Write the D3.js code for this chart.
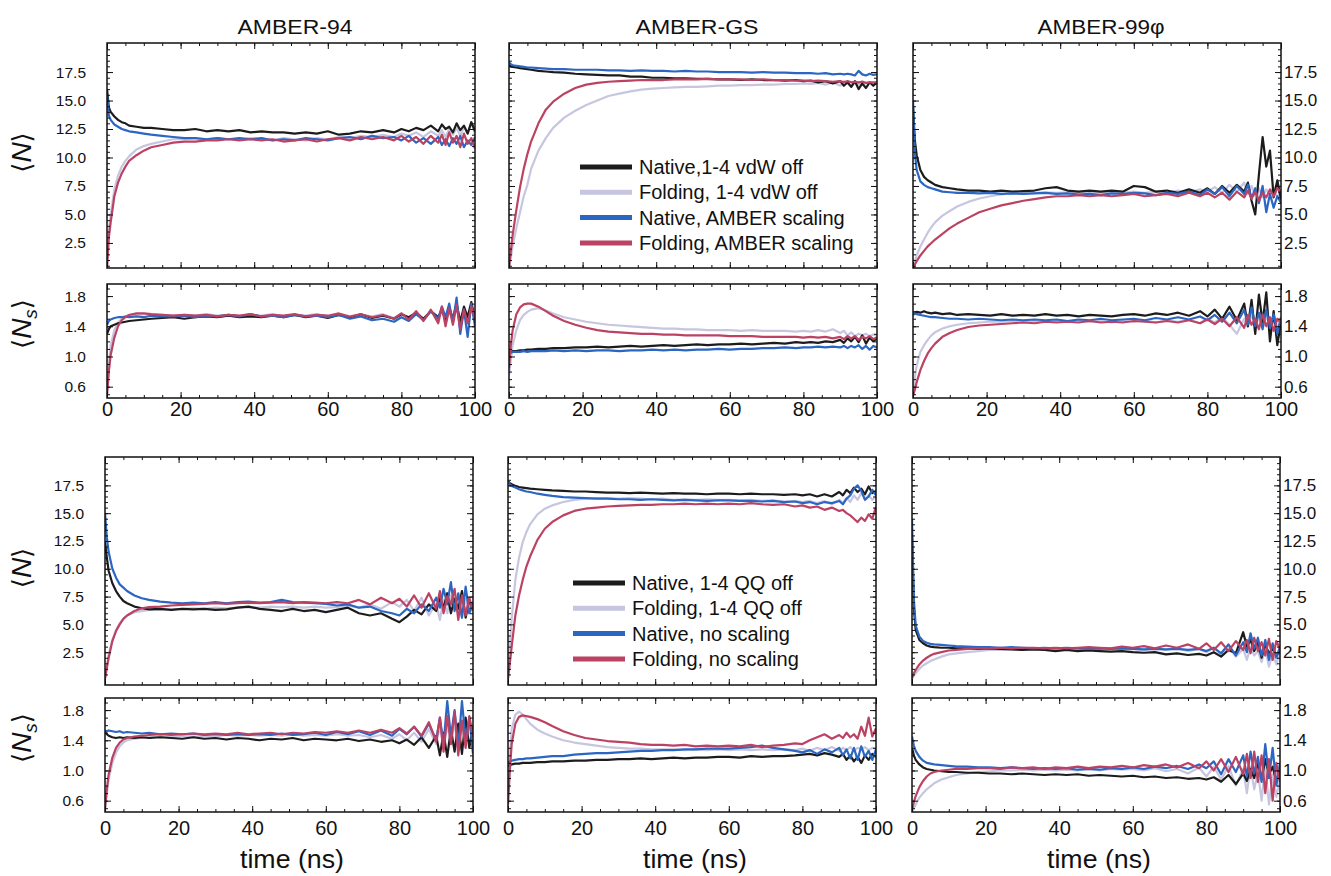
<!DOCTYPE html>
<meta charset="utf-8">
<style>
body { margin: 0; background: #fff; }
svg { font-family: "Liberation Sans", Arial, sans-serif; }
.frame { fill: none; stroke: #111; stroke-width: 1.5px; }
.edge .tick line { stroke: #111; stroke-width: 1px; }
.edge .domain { display: none; }
.edge text { fill: #111; }
.trace { fill: none; stroke-width: 2.2px; stroke-linejoin: round; }
</style>
<svg width="1331" height="876"></svg>
<script src="https://cdnjs.cloudflare.com/ajax/libs/d3/7.8.5/d3.min.js"></script>
<script>
// time axis (ns), denser at the start where the curves move fast
var time = [0,0.5,1,2,3,4,5,6,8,10, 12,15,18,21,24,27,30,33,36,39, 42,45,48,51,54,57,60,63,66,69, 72,75,78,80,82,84,86,88,90,91, 92,93,94,95,96,97,98,99,100];

var colTitles = ["AMBER-94", "AMBER-GS", "AMBER-99\u03c6"];
var vdwLegend = ["Native,1-4 vdW off", "Folding, 1-4 vdW off", "Native, AMBER scaling", "Folding, AMBER scaling"];
var qqLegend = ["Native, 1-4 QQ off", "Folding, 1-4 QQ off", "Native, no scaling", "Folding, no scaling"];
var nTicks = [2.5, 5, 7.5, 10, 12.5, 15, 17.5];
var nsTicks = [0.6, 1.0, 1.4, 1.8];
var timeTicks = [0, 20, 40, 60, 80, 100];

// ---- 1-4 vdW off vs AMBER scaling (top half) ----
var vdw94_N_natOff  = [16.0,14.4,14.0,13.6,13.3,13.1,13.0,12.8,12.7,12.6, 12.6,12.5,12.4,12.4,12.5,12.3,12.4,12.3,12.4,12.2, 12.3,12.2,12.2,12.1,12.2,12.1,12.3,12.0,12.1,12.3, 12.2,12.4,12.2,12.5,12.3,12.6,12.4,12.8,12.3,12.9, 12.5,12.7,12.2,13.0,12.4,12.8,12.1,13.1,12.3];
var vdw94_N_foldOff = [0.4,3.6,5.0,7.2,8.4,9.2,9.7,10.1,10.7,11.0, 11.2,11.4,11.6,11.6,11.7,11.6,11.7,11.6,11.6,11.7, 11.6,11.5,11.7,11.6,11.5,11.7,11.6,11.8,11.7,11.9, 11.8,12.0,11.8,12.1,11.9,12.2,11.8,12.3,11.9,12.4, 11.8,12.5,12.0,12.6,11.9,12.7,12.1,13.1,12.0];
var vdw94_N_natScl  = [15.5,13.7,13.3,12.9,12.7,12.5,12.4,12.3,12.2,12.1, 12.0,11.9,11.8,11.7,11.7,11.6,11.7,11.6,11.7,11.6, 11.7,11.5,11.6,11.5,11.7,11.6,11.5,11.7,11.8,11.6, 11.9,11.7,11.8,11.5,11.9,11.3,11.7,11.2,11.8,11.1, 11.6,11.0,11.7,11.2,11.9,10.9,11.5,11.1,11.8];
var vdw94_N_foldScl = [0.3,3.0,4.3,6.6,7.8,8.6,9.2,9.7,10.2,10.6, 10.9,11.1,11.3,11.4,11.4,11.5,11.5,11.6,11.5,11.6, 11.5,11.6,11.4,11.5,11.6,11.4,11.6,11.7,11.5,11.8, 11.6,11.8,11.5,11.9,11.4,11.8,11.2,11.9,11.3,12.0, 11.1,12.2,11.3,11.9,10.9,12.1,11.2,11.7,10.8];

var vdw94_Ns_natOff  = [1.30,1.36,1.40,1.42,1.44,1.45,1.46,1.47,1.48,1.49, 1.50,1.51,1.52,1.50,1.52,1.53,1.52,1.54,1.52,1.53, 1.52,1.54,1.52,1.55,1.52,1.54,1.51,1.55,1.52,1.56, 1.51,1.54,1.50,1.56,1.52,1.58,1.50,1.60,1.52,1.62, 1.48,1.64,1.50,1.70,1.46,1.66,1.52,1.72,1.50];
var vdw94_Ns_foldOff = [0.55,0.90,1.15,1.35,1.45,1.50,1.53,1.55,1.56,1.56, 1.55,1.55,1.54,1.55,1.54,1.56,1.54,1.55,1.53,1.55, 1.54,1.56,1.53,1.55,1.54,1.56,1.53,1.55,1.52,1.55, 1.53,1.56,1.51,1.57,1.50,1.58,1.49,1.60,1.47,1.63, 1.45,1.60,1.48,1.65,1.42,1.62,1.50,1.66,1.48];
var vdw94_Ns_natScl  = [1.42,1.47,1.49,1.51,1.52,1.52,1.53,1.52,1.53,1.52, 1.54,1.53,1.53,1.54,1.52,1.54,1.53,1.55,1.53,1.56, 1.53,1.54,1.52,1.55,1.53,1.54,1.52,1.55,1.50,1.53, 1.48,1.50,1.46,1.52,1.47,1.56,1.48,1.60,1.50,1.66, 1.52,1.70,1.45,1.78,1.30,1.62,1.26,1.70,1.40];
var vdw94_Ns_foldScl = [0.48,0.80,1.02,1.25,1.40,1.48,1.52,1.55,1.57,1.57, 1.56,1.55,1.54,1.55,1.54,1.55,1.53,1.55,1.54,1.56, 1.53,1.55,1.54,1.56,1.53,1.55,1.54,1.57,1.53,1.56, 1.52,1.55,1.50,1.57,1.49,1.60,1.47,1.62,1.44,1.66, 1.40,1.64,1.42,1.68,1.36,1.62,1.44,1.66,1.50];

var vdwGS_N_natOff  = [18.1,18.0,17.95,17.9,17.85,17.8,17.75,17.7,17.6,17.55, 17.5,17.45,17.35,17.3,17.25,17.2,17.2,17.1,17.1,17.0, 17.0,16.95,16.95,16.9,16.9,16.85,16.85,16.8,16.85,16.8, 16.8,16.75,16.8,16.7,16.75,16.6,16.7,16.5,16.7,16.3, 16.6,16.2,16.7,16.0,16.5,16.1,16.6,16.3,16.6];
var vdwGS_N_foldOff = [0.3,1.2,2.2,3.8,5.2,6.6,7.6,9.0,10.6,11.7, 12.6,13.5,14.1,14.6,15.0,15.4,15.6,15.8,15.95,16.05, 16.1,16.15,16.2,16.2,16.25,16.3,16.3,16.35,16.35,16.4, 16.4,16.45,16.45,16.5,16.45,16.55,16.4,16.6,16.3,16.7, 16.5,16.2,16.6,16.4,16.7,16.5,16.6,16.5,16.6];
var vdwGS_N_natScl  = [18.35,18.2,18.1,18.05,18.0,17.95,17.9,17.9,17.85,17.8, 17.75,17.75,17.7,17.7,17.7,17.65,17.65,17.6,17.65,17.6, 17.6,17.55,17.6,17.55,17.55,17.5,17.5,17.5,17.45,17.5, 17.45,17.45,17.4,17.4,17.4,17.35,17.4,17.3,17.35,17.3, 17.35,17.3,17.2,17.6,17.3,17.2,17.35,17.25,17.3];
var vdwGS_N_foldScl = [0.3,1.8,3.2,5.4,7.4,9.0,10.3,11.4,13.0,14.2, 14.9,15.6,16.1,16.4,16.55,16.65,16.7,16.75,16.8,16.8, 16.8,16.85,16.85,16.85,16.9,16.85,16.85,16.85,16.8,16.85, 16.8,16.8,16.75,16.75,16.7,16.75,16.7,16.65,16.7,16.6, 16.7,16.6,16.65,16.6,16.65,16.55,16.6,16.6,16.6];

var vdwGS_Ns_natOff  = [1.05,1.06,1.07,1.07,1.08,1.08,1.09,1.09,1.10,1.10, 1.11,1.11,1.12,1.12,1.13,1.12,1.13,1.14,1.13,1.14, 1.15,1.14,1.15,1.16,1.15,1.16,1.16,1.17,1.16,1.17, 1.18,1.17,1.19,1.18,1.19,1.18,1.20,1.19,1.22,1.18, 1.24,1.20,1.26,1.19,1.28,1.17,1.25,1.20,1.24];
var vdwGS_Ns_foldOff = [0.75,0.95,1.15,1.35,1.48,1.55,1.59,1.62,1.64,1.61, 1.57,1.52,1.49,1.46,1.44,1.42,1.41,1.40,1.39,1.38, 1.37,1.37,1.36,1.36,1.35,1.35,1.35,1.34,1.35,1.34, 1.34,1.34,1.33,1.34,1.33,1.35,1.33,1.36,1.31,1.34, 1.28,1.32,1.27,1.30,1.28,1.30,1.27,1.29,1.27];
var vdwGS_Ns_natScl  = [1.04,1.05,1.06,1.06,1.06,1.07,1.06,1.07,1.07,1.07, 1.08,1.07,1.08,1.07,1.08,1.08,1.07,1.08,1.08,1.09, 1.08,1.09,1.08,1.09,1.09,1.10,1.09,1.10,1.10,1.11, 1.11,1.12,1.11,1.12,1.12,1.13,1.12,1.13,1.12,1.14, 1.11,1.14,1.12,1.15,1.10,1.14,1.09,1.14,1.12];
var vdwGS_Ns_foldScl = [0.85,1.15,1.35,1.56,1.65,1.69,1.70,1.70,1.66,1.60, 1.54,1.47,1.42,1.38,1.35,1.33,1.32,1.31,1.30,1.30, 1.29,1.29,1.28,1.28,1.28,1.28,1.27,1.27,1.27,1.26, 1.26,1.26,1.26,1.25,1.26,1.25,1.26,1.24,1.26,1.23, 1.27,1.24,1.27,1.22,1.26,1.24,1.27,1.23,1.25];

var vdw99_N_natOff  = [14.5,11.5,10.2,8.9,8.3,8.0,7.8,7.6,7.4,7.3, 7.2,7.1,7.1,7.0,7.1,7.0,7.05,7.1,7.3,7.4, 7.1,7.0,7.1,7.0,7.1,7.0,7.5,7.4,7.0,7.1, 6.9,7.2,6.9,7.3,6.8,7.5,6.9,7.6,7.0,7.8, 6.2,5.0,8.5,11.8,9.2,10.6,6.5,8.0,6.3];
var vdw99_N_foldOff = [0.3,0.9,1.4,2.2,2.8,3.4,3.9,4.3,4.9,5.3, 5.7,6.1,6.4,6.6,6.75,6.85,6.9,6.9,6.95,6.9, 6.95,6.9,6.95,6.9,6.95,6.9,7.0,6.9,7.0,6.9, 7.1,6.9,7.2,7.0,7.4,6.9,7.6,7.0,7.8,6.8, 7.5,6.6,7.3,6.5,7.2,6.8,7.4,6.5,7.0];
var vdw99_N_natScl  = [15.0,10.5,8.9,7.9,7.6,7.4,7.3,7.2,7.0,6.95, 6.9,6.9,6.85,6.9,6.8,6.85,6.8,6.85,6.9,6.8, 6.85,6.75,6.8,6.7,6.85,6.8,6.9,6.85,6.7,6.9, 6.8,7.0,6.7,7.2,6.8,7.4,6.6,7.5,6.8,7.6, 6.4,7.3,6.0,7.5,5.2,6.8,5.6,6.6,6.0];
var vdw99_N_foldScl = [0.2,0.6,0.9,1.4,1.8,2.2,2.5,2.8,3.3,3.8, 4.2,4.7,5.2,5.5,5.8,6.0,6.2,6.35,6.5,6.6, 6.6,6.7,6.6,6.7,6.6,6.7,6.8,6.6,6.7,6.8, 6.6,6.9,6.6,6.9,6.5,6.9,6.3,7.0,6.5,7.1, 6.4,7.0,6.2,6.9,6.5,7.2,6.6,7.3,7.0];

var vdw99_Ns_natOff  = [1.55,1.58,1.59,1.58,1.60,1.58,1.57,1.58,1.56,1.57, 1.55,1.56,1.55,1.54,1.56,1.54,1.55,1.54,1.56,1.54, 1.55,1.53,1.55,1.54,1.53,1.55,1.56,1.54,1.57,1.55, 1.58,1.54,1.60,1.53,1.62,1.50,1.66,1.48,1.70,1.40, 1.75,1.30,1.82,1.45,1.85,1.20,1.60,1.15,1.45];
var vdw99_Ns_foldOff = [0.50,0.72,0.88,1.06,1.15,1.22,1.28,1.32,1.37,1.40, 1.42,1.44,1.45,1.46,1.46,1.47,1.46,1.47,1.46,1.47, 1.46,1.48,1.46,1.47,1.45,1.47,1.46,1.48,1.45,1.48, 1.46,1.49,1.44,1.50,1.45,1.52,1.42,1.30,1.50,1.40, 1.55,1.42,1.50,1.38,1.52,1.44,1.48,1.40,1.46];
var vdw99_Ns_natScl  = [1.58,1.57,1.56,1.55,1.54,1.53,1.52,1.52,1.51,1.50, 1.50,1.49,1.50,1.49,1.48,1.49,1.48,1.49,1.48,1.49, 1.47,1.49,1.48,1.50,1.48,1.49,1.50,1.48,1.51,1.49, 1.52,1.49,1.53,1.48,1.55,1.46,1.58,1.44,1.62,1.42, 1.65,1.40,1.58,1.36,1.62,1.38,1.56,1.30,1.52];
var vdw99_Ns_foldScl = [0.48,0.56,0.66,0.82,0.94,1.04,1.11,1.17,1.26,1.31, 1.35,1.39,1.41,1.42,1.43,1.44,1.45,1.44,1.46,1.45, 1.46,1.45,1.47,1.45,1.46,1.45,1.47,1.46,1.45,1.47, 1.45,1.48,1.44,1.49,1.43,1.50,1.40,1.52,1.38,1.55, 1.42,1.50,1.36,1.56,1.40,1.52,1.34,1.50,1.44];

// ---- 1-4 QQ off vs no scaling (bottom half) ----
var qq94_N_natOff  = [12.5,11.0,9.8,8.7,8.0,7.5,7.1,6.9,6.6,6.45, 6.35,6.4,6.3,6.4,6.35,6.4,6.3,6.35,6.5,6.6, 6.4,6.3,6.2,6.4,6.2,6.3,6.1,6.3,6.5,6.0, 5.8,6.0,5.5,5.2,5.7,6.3,5.9,6.8,6.2,7.4, 6.5,7.8,6.0,7.3,6.4,8.0,5.6,7.2,6.3];
var qq94_N_foldOff = [0.2,1.2,2.3,3.6,4.5,5.1,5.5,5.8,6.1,6.2, 6.3,6.3,6.35,6.4,6.45,6.4,6.5,6.45,6.5,6.55, 6.5,6.6,6.55,6.6,6.5,6.6,6.5,6.55,6.7,6.5, 6.8,6.4,7.0,6.6,7.2,6.2,7.4,5.8,6.9,5.4, 7.2,6.0,7.6,6.4,6.8,5.7,7.3,6.0,6.5];
var qq94_N_natScl  = [15.0,12.8,11.5,10.0,9.2,8.6,8.3,8.0,7.6,7.35, 7.2,7.05,6.95,6.9,6.95,6.9,7.0,6.9,7.0,7.05, 6.95,7.0,7.2,7.0,6.95,6.9,6.85,6.7,6.8,6.5, 6.6,6.2,6.0,5.8,6.4,6.0,6.8,6.2,7.4,6.5, 8.2,6.8,8.8,6.2,7.8,5.6,8.4,6.0,7.0];
var qq94_N_foldScl = [0.1,1.1,2.0,3.5,4.4,5.0,5.5,5.8,6.2,6.45, 6.55,6.6,6.7,6.75,6.8,6.85,6.9,6.85,6.9,6.95, 6.9,6.95,7.0,6.9,7.0,6.95,6.9,7.0,6.9,7.2, 6.8,7.4,6.9,7.3,6.6,7.6,6.5,7.8,6.4,8.0, 6.0,7.5,6.8,8.2,5.4,7.6,5.8,7.4,6.2];

var qq94_Ns_natOff  = [1.52,1.48,1.46,1.44,1.43,1.44,1.43,1.44,1.43,1.44, 1.43,1.44,1.43,1.42,1.44,1.42,1.43,1.41,1.43,1.42, 1.40,1.42,1.41,1.43,1.40,1.42,1.41,1.40,1.42,1.39, 1.41,1.38,1.40,1.36,1.41,1.34,1.44,1.30,1.46,1.20, 1.50,1.18,1.55,1.25,1.62,1.22,1.70,1.30,1.58];
var qq94_Ns_foldOff = [0.48,0.70,0.88,1.10,1.24,1.32,1.37,1.40,1.42,1.43, 1.44,1.45,1.44,1.46,1.45,1.46,1.45,1.47,1.46,1.47, 1.46,1.47,1.46,1.48,1.46,1.47,1.46,1.48,1.46,1.47, 1.44,1.47,1.42,1.48,1.40,1.50,1.38,1.55,1.35,1.58, 1.30,1.60,1.36,1.62,1.32,1.55,1.40,1.60,1.45];
var qq94_Ns_natScl  = [1.53,1.52,1.53,1.52,1.51,1.52,1.50,1.51,1.50,1.49, 1.50,1.48,1.49,1.48,1.49,1.47,1.48,1.47,1.48,1.47, 1.48,1.47,1.49,1.47,1.48,1.50,1.47,1.51,1.48,1.52, 1.47,1.53,1.46,1.55,1.48,1.58,1.45,1.62,1.40,1.70, 1.35,1.92,1.45,1.80,1.30,1.92,1.40,1.70,1.22];
var qq94_Ns_foldScl = [0.50,0.75,0.95,1.17,1.30,1.37,1.41,1.43,1.45,1.46, 1.47,1.48,1.47,1.48,1.49,1.48,1.49,1.48,1.50,1.48, 1.49,1.50,1.48,1.50,1.49,1.51,1.50,1.52,1.50,1.53, 1.50,1.54,1.50,1.56,1.49,1.58,1.46,1.64,1.38,1.70, 1.25,1.72,1.35,1.78,1.20,1.66,1.30,1.72,1.45];

var qqGS_N_natOff  = [17.9,17.7,17.6,17.45,17.35,17.3,17.25,17.2,17.15,17.1, 17.05,17.0,16.95,16.95,16.9,16.85,16.85,16.8,16.85,16.8, 16.75,16.8,16.75,16.75,16.7,16.75,16.75,16.7,16.75,16.7, 16.7,16.65,16.7,16.6,16.7,16.5,16.7,16.5,16.9,16.6, 17.1,16.8,17.3,16.9,17.2,16.7,17.4,16.8,17.0];
var qqGS_N_foldOff = [0.2,3.0,5.5,9.0,11.0,12.4,13.3,14.0,14.9,15.4, 15.7,16.0,16.2,16.3,16.35,16.35,16.3,16.35,16.3,16.25, 16.3,16.2,16.25,16.2,16.25,16.2,16.2,16.15,16.2,16.1, 16.15,16.05,16.1,16.0,16.1,15.9,16.1,15.8,16.2,15.9, 16.4,16.0,16.6,16.2,16.8,16.3,16.6,16.2,16.5];
var qqGS_N_natScl  = [17.9,17.6,17.45,17.3,17.15,17.05,16.95,16.9,16.75,16.65, 16.55,16.45,16.4,16.35,16.3,16.3,16.25,16.25,16.2,16.25, 16.2,16.15,16.2,16.15,16.1,16.15,16.15,16.1,16.1,16.05, 16.1,16.0,16.05,15.9,16.0,15.8,16.0,15.9,16.1,15.8, 16.3,16.6,17.2,17.5,17.0,16.2,16.5,17.1,16.6];
var qqGS_N_foldScl = [0.1,1.5,3.0,5.8,7.6,9.0,10.2,11.1,12.6,13.6, 14.2,14.8,15.2,15.4,15.5,15.6,15.65,15.7,15.75,15.75, 15.8,15.8,15.85,15.8,15.85,15.8,15.85,15.8,15.9,15.8, 15.75,15.8,15.6,15.7,15.5,15.6,15.3,15.5,15.2,15.3, 15.0,14.8,14.5,14.2,14.6,14.3,14.9,14.5,15.6];

var qqGS_Ns_natOff  = [1.06,1.07,1.08,1.09,1.09,1.10,1.10,1.10,1.11,1.11, 1.12,1.12,1.13,1.13,1.14,1.14,1.15,1.15,1.16,1.15, 1.16,1.17,1.16,1.17,1.17,1.18,1.18,1.17,1.19,1.18, 1.19,1.19,1.20,1.21,1.22,1.20,1.23,1.21,1.18,1.22, 1.14,1.20,1.12,1.18,1.10,1.20,1.14,1.22,1.18];
var qqGS_Ns_foldOff = [0.60,1.20,1.55,1.74,1.78,1.74,1.68,1.62,1.54,1.49, 1.45,1.40,1.37,1.35,1.33,1.31,1.30,1.29,1.29,1.28, 1.28,1.28,1.27,1.28,1.27,1.28,1.27,1.28,1.27,1.28, 1.27,1.28,1.27,1.29,1.26,1.30,1.27,1.31,1.26,1.30, 1.27,1.31,1.26,1.30,1.28,1.31,1.27,1.30,1.29];
var qqGS_Ns_natScl  = [1.10,1.12,1.13,1.14,1.15,1.15,1.16,1.16,1.17,1.18, 1.19,1.19,1.21,1.22,1.23,1.23,1.24,1.25,1.26,1.26, 1.27,1.27,1.28,1.28,1.29,1.29,1.29,1.30,1.31,1.33, 1.30,1.28,1.26,1.24,1.27,1.22,1.28,1.24,1.30,1.20, 1.28,1.16,1.30,1.14,1.32,1.18,1.26,1.14,1.28];
var qqGS_Ns_foldScl = [0.55,1.00,1.35,1.62,1.71,1.73,1.72,1.71,1.68,1.64, 1.59,1.52,1.47,1.43,1.41,1.39,1.38,1.37,1.35,1.34, 1.34,1.33,1.34,1.32,1.33,1.32,1.33,1.32,1.34,1.31, 1.33,1.34,1.36,1.35,1.40,1.44,1.48,1.42,1.47,1.43, 1.50,1.44,1.48,1.42,1.58,1.46,1.70,1.45,1.56];

var qq99_N_natOff  = [13.0,6.5,4.5,3.6,3.3,3.1,3.0,2.95,2.9,2.9, 2.85,2.85,2.8,2.85,2.8,2.75,2.7,2.75,2.7,2.6, 2.7,2.6,2.65,2.6,2.55,2.6,2.5,2.45,2.5,2.3, 2.4,2.25,2.35,2.2,2.5,2.1,2.7,2.4,4.3,3.0, 3.6,2.6,3.4,2.0,3.2,2.4,2.8,2.2,2.6];
var qq99_N_foldOff = [0.1,0.4,0.6,1.0,1.3,1.5,1.7,1.85,2.1,2.3, 2.4,2.5,2.6,2.7,2.7,2.75,2.75,2.8,2.75,2.8, 2.8,2.75,2.8,2.75,2.8,2.75,2.8,2.7,2.85,2.7, 2.9,2.6,2.8,2.5,2.9,2.3,3.0,2.1,2.8,1.8, 3.0,2.2,2.6,1.6,2.8,1.2,2.4,1.4,2.6];
var qq99_N_natScl  = [14.5,7.3,4.9,3.9,3.5,3.35,3.25,3.2,3.15,3.1, 3.05,3.0,2.95,2.95,2.9,2.95,2.9,2.85,2.9,2.85, 2.9,2.85,2.8,2.85,2.8,2.85,2.8,2.75,2.8,2.75, 2.8,2.7,2.8,2.6,2.9,2.4,3.2,2.2,3.4,2.5, 4.2,2.8,3.8,2.2,3.6,1.8,3.3,2.0,3.0];
var qq99_N_foldScl = [0.2,0.6,0.9,1.4,1.75,2.0,2.2,2.35,2.5,2.65, 2.7,2.8,2.85,2.85,2.9,2.85,2.9,2.9,2.85,2.9, 2.85,2.9,2.95,2.9,2.85,3.0,2.9,3.05,2.85,3.1, 2.9,3.2,2.8,3.3,2.7,3.4,2.6,3.5,2.7,3.6, 2.4,3.8,2.6,3.4,2.2,3.7,1.8,3.5,2.8];

var qq99_Ns_natOff  = [1.30,1.20,1.14,1.08,1.04,1.02,1.01,1.00,0.99,0.98, 0.98,0.97,0.97,0.96,0.96,0.95,0.96,0.95,0.94,0.95, 0.94,0.95,0.93,0.94,0.93,0.92,0.93,0.91,0.92,0.90, 0.91,0.89,0.90,0.88,0.91,0.85,0.94,0.82,0.96,0.86, 1.02,0.90,1.10,0.88,1.15,0.95,1.05,0.85,1.00];
var qq99_Ns_foldOff = [0.45,0.50,0.55,0.64,0.70,0.75,0.79,0.83,0.88,0.91, 0.94,0.96,0.98,0.99,1.00,1.00,1.01,1.00,1.01,1.00, 1.01,1.00,1.02,1.00,1.02,1.01,1.02,1.00,1.03,0.99, 1.02,0.96,1.04,0.92,1.05,0.88,1.06,0.80,1.02,0.70, 1.05,0.75,0.98,0.60,1.08,0.55,0.95,0.65,0.90];
var qq99_Ns_natScl  = [1.45,1.33,1.26,1.18,1.13,1.10,1.09,1.08,1.07,1.06, 1.05,1.05,1.04,1.04,1.03,1.04,1.03,1.02,1.03,1.02, 1.03,1.01,1.02,1.01,1.03,1.02,1.04,1.02,1.05,1.03, 1.06,1.02,1.08,1.03,1.12,0.95,1.15,0.98,1.20,0.92, 1.25,0.96,1.18,0.85,1.35,0.90,1.30,0.80,1.10];
var qq99_Ns_foldScl = [0.48,0.58,0.66,0.78,0.86,0.92,0.96,0.98,1.00,1.01, 1.02,1.02,1.03,1.03,1.02,1.04,1.03,1.04,1.02,1.04, 1.03,1.05,1.03,1.05,1.04,1.06,1.04,1.07,1.05,1.08, 1.04,1.10,1.03,1.12,1.00,1.15,0.98,1.18,0.95,1.22, 0.90,1.25,0.85,1.20,0.70,1.15,0.60,1.10,0.85];

// series order: native off, folding off, native scaled, folding scaled
var colors = ["#1c1c1c", "#c6c6e0", "#2b66c2", "#bb4262"];
var drawOrder = [1, 0, 2, 3];

var groups = [
  { left: [107, 509, 913], nTop: 43, nH: 225, nsTop: 284, nsH: 114, nDomain: [0.3, 20.05], xPad: 4,
    legend: vdwLegend, legX: 580, legY: 167,
    N:  [[vdw94_N_natOff, vdw94_N_foldOff, vdw94_N_natScl, vdw94_N_foldScl],
         [vdwGS_N_natOff, vdwGS_N_foldOff, vdwGS_N_natScl, vdwGS_N_foldScl],
         [vdw99_N_natOff, vdw99_N_foldOff, vdw99_N_natScl, vdw99_N_foldScl]],
    Ns: [[vdw94_Ns_natOff, vdw94_Ns_foldOff, vdw94_Ns_natScl, vdw94_Ns_foldScl],
         [vdwGS_Ns_natOff, vdwGS_Ns_foldOff, vdwGS_Ns_natScl, vdwGS_Ns_foldScl],
         [vdw99_Ns_natOff, vdw99_Ns_foldOff, vdw99_Ns_natScl, vdw99_Ns_foldScl]] },
  { left: [105, 508, 912], nTop: 457, nH: 228, nsTop: 698, nsH: 114, nDomain: [-0.45, 20.05], xPad: 9,
    legend: qqLegend, legX: 573, legY: 583,
    N:  [[qq94_N_natOff, qq94_N_foldOff, qq94_N_natScl, qq94_N_foldScl],
         [qqGS_N_natOff, qqGS_N_foldOff, qqGS_N_natScl, qqGS_N_foldScl],
         [qq99_N_natOff, qq99_N_foldOff, qq99_N_natScl, qq99_N_foldScl]],
    Ns: [[qq94_Ns_natOff, qq94_Ns_foldOff, qq94_Ns_natScl, qq94_Ns_foldScl],
         [qqGS_Ns_natOff, qqGS_Ns_foldOff, qqGS_Ns_natScl, qqGS_Ns_foldScl],
         [qq99_Ns_natOff, qq99_Ns_foldOff, qq99_Ns_natScl, qq99_Ns_foldScl]] }
];

var svg = d3.select("svg"),
    panelW = 368,
    nsDomain = [0.45, 1.96],
    clipId = 0;

var x = d3.scaleLinear().domain([0, 100]).range([0, panelW]);
var fmt1 = d3.format(".1f");

// inward tick marks on one edge, labels optional
function edge(g, axisFn, scale, majors, minors, labels, pad, fontSize) {
  g.append("g").attr("class", "edge")
      .call(axisFn(scale).tickValues(minors).tickSize(-3).tickFormat(""));
  var a = g.append("g").attr("class", "edge")
      .call(axisFn(scale).tickValues(majors).tickSize(-6).tickPadding(pad || 3)
        .tickFormat(labels ? labels : ""));
  if (fontSize) a.selectAll("text").style("font-size", fontSize + "px");
  return a;
}

function panel(left, top, h, y, seriesList, yMajors, yMinors, col, showX, xPad) {
  var g = svg.append("g").attr("transform", "translate(" + left + "," + top + ")");
  var id = "clip" + (clipId++);
  g.append("clipPath").attr("id", id).append("rect").attr("width", panelW).attr("height", h);

  var line = d3.line()
      .x(function(d, i) { return x(time[i]); })
      .y(function(d) { return y(d); });

  var plot = g.append("g").attr("clip-path", "url(#" + id + ")");
  drawOrder.forEach(function(k) {
    plot.append("path")
        .attr("class", "trace")
        .attr("d", line(seriesList[k]))
        .style("stroke", colors[k]);
  });

  var xMinor = d3.range(0, 101, 5);
  edge(g.append("g"), d3.axisTop, x, timeTicks, xMinor, null);
  edge(g.append("g").attr("transform", "translate(0," + h + ")"), d3.axisBottom, x, timeTicks, xMinor,
       showX ? d3.format("d") : null, xPad, 20);
  edge(g.append("g"), d3.axisLeft, y, yMajors, yMinors, col === 0 ? fmt1 : null, 21, 15.5);
  edge(g.append("g").attr("transform", "translate(" + panelW + ",0)"), d3.axisRight, y, yMajors, yMinors,
       col === 2 ? fmt1 : null, 3, 17);

  g.append("rect").attr("class", "frame").attr("width", panelW).attr("height", h);
}

function yLabel(cx, cy, sub) {
  var t = svg.append("text")
      .attr("transform", "translate(" + cx + "," + cy + ") rotate(-90)")
      .attr("text-anchor", "middle")
      .style("font-size", "28px")
      .style("fill", "#111");
  t.append("tspan").style("font-family", "DejaVu Sans").style("font-size", "26px").text("\u27e8");
  t.append("tspan").style("font-style", "italic").text("N");
  if (sub) {
    t.append("tspan").style("font-style", "italic").style("font-size", "19px").attr("dy", 6).text("s");
    t.append("tspan").style("font-family", "DejaVu Sans").style("font-size", "26px").attr("dy", -6).text("\u27e9");
  } else {
    t.append("tspan").style("font-family", "DejaVu Sans").style("font-size", "26px").text("\u27e9");
  }
}

groups.forEach(function(G, gi) {
  var yN = d3.scaleLinear().domain(G.nDomain).range([G.nH, 0]);
  var yNs = d3.scaleLinear().domain(nsDomain).range([G.nsH, 0]);
  var nMinor = d3.range(0.5, 20, 0.5);
  var nsMinor = d3.range(0.5, 1.96, 0.1);

  for (var c = 0; c < 3; c++) {
    panel(G.left[c], G.nTop, G.nH, yN, G.N[c], nTicks, nMinor, c, false);
    panel(G.left[c], G.nsTop, G.nsH, yNs, G.Ns[c], nsTicks, nsMinor, c, true, G.xPad);
  }

  yLabel(31, G.nTop + G.nH / 2 - 3, false);
  yLabel(31, G.nsTop + 40, true);

  // legend inside the middle N panel
  var leg = svg.append("g").attr("transform", "translate(" + G.legX + "," + G.legY + ")");
  G.legend.forEach(function(name, i) {
    var row = leg.append("g").attr("transform", "translate(0," + (i * 25.3) + ")");
    row.append("line").attr("x1", 0).attr("x2", 52).attr("y1", 0).attr("y2", 0)
        .style("stroke", colors[i]).style("stroke-width", 5);
    row.append("text").attr("x", 59).attr("y", 7).style("font-size", "20px").style("fill", "#111").text(name);
  });
});

// column titles
var titleW = [115, 123, 127];
colTitles.forEach(function(t, c) {
  svg.append("text")
      .attr("x", groups[0].left[c] + panelW / 2 + 4 - titleW[c] / 2)
      .attr("y", 34)
      .attr("textLength", titleW[c])
      .attr("lengthAdjust", "spacingAndGlyphs")
      .style("font-size", "20px")
      .style("fill", "#111")
      .text(t);
});

// x axis titles
groups[1].left.forEach(function(l) {
  svg.append("text")
      .attr("x", l + panelW / 2 + 3 - 52)
      .attr("y", 868)
      .attr("textLength", 104)
      .attr("lengthAdjust", "spacingAndGlyphs")
      .style("font-size", "25px")
      .style("fill", "#111")
      .text("time (ns)");
});
</script>
